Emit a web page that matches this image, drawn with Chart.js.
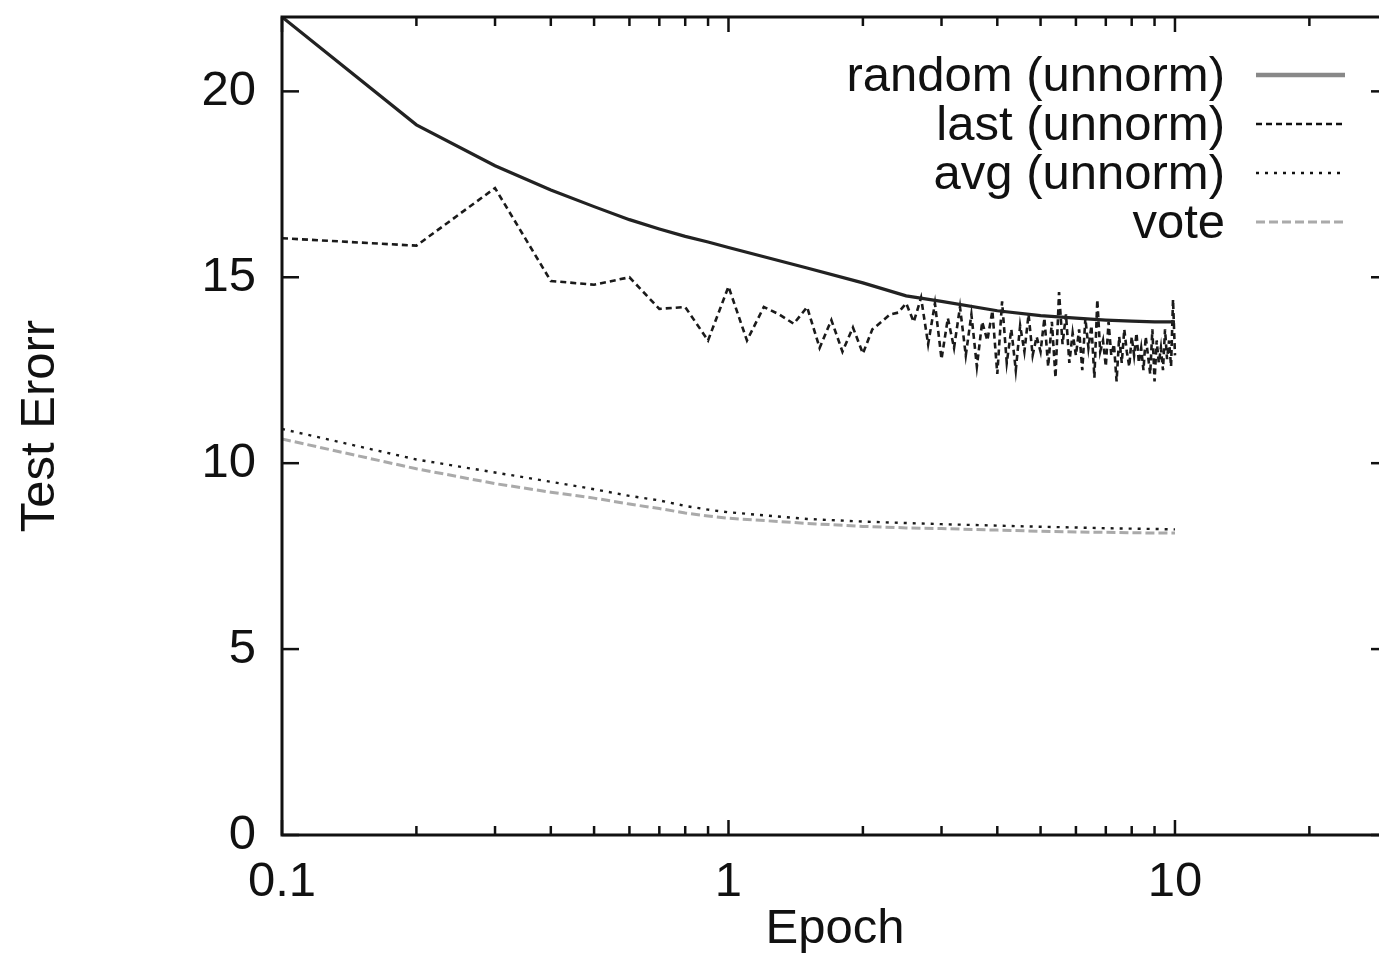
<!DOCTYPE html>
<html>
<head>
<meta charset="utf-8">
<script src="https://cdn.jsdelivr.net/npm/chart.js@4.4.1/dist/chart.umd.min.js"></script>
<style>
  html, body { margin: 0; padding: 0; background: #fff; overflow: hidden; }
  canvas { display: block; }
</style>
</head>
<body>
<canvas id="c" width="1395" height="960" style="width:1395px;height:960px"></canvas>
<script>
// ---- Data ----
const lastEpochs = [0.1,0.2,0.3,0.4,0.5,0.6,0.7,0.8,0.9,1.0,
  1.1,1.2,1.3,1.4,1.5,1.6,1.7,1.8,1.9,2.0,
  2.1,2.2,2.3,2.4,2.5,2.6,2.7,2.8,2.9,3.0,
  3.1,3.2,3.3,3.4,3.5,3.6,3.7,3.8,3.9,4.0,
  4.1,4.2,4.3,4.4,4.5,4.6,4.7,4.8,4.9,5.0,
  5.1,5.2,5.3,5.4,5.5,5.6,5.7,5.8,5.9,6.0,
  6.1,6.2,6.3,6.4,6.5,6.6,6.7,6.8,6.9,7.0,
  7.1,7.2,7.3,7.4,7.5,7.6,7.7,7.8,7.9,8.0,
  8.1,8.2,8.3,8.4,8.5,8.6,8.7,8.8,8.9,9.0,
  9.1,9.2,9.3,9.4,9.5,9.6,9.7,9.8,9.9,10.0];
const lastErr = [16.05,15.85,17.4,14.9,14.8,15.0,14.15,14.2,13.3,14.75,
  13.3,14.2,14.0,13.75,14.2,13.1,13.85,13.0,13.65,12.95,
  13.6,13.8,14.0,14.05,14.3,13.8,14.45,13.2,14.3,12.8,
  13.9,13.1,14.2,12.9,14.0,12.6,13.8,13.3,14.1,12.4,
  14.35,12.7,13.6,12.5,13.7,13.0,14.0,12.9,13.4,13.0,
  13.9,12.6,13.8,12.3,14.6,13.2,14.0,12.7,13.5,12.9,
  13.6,12.5,13.9,13.1,13.7,12.3,14.4,13.0,13.3,12.6,
  13.8,12.9,13.2,12.2,13.4,12.7,13.6,13.0,12.6,13.4,
  12.9,13.5,12.7,13.1,12.5,13.4,12.9,12.4,13.6,12.2,
  13.3,12.7,13.1,12.5,13.6,12.8,13.3,12.6,14.4,12.9];

const smoothEpochs = [0.1,0.2,0.3,0.4,0.5,0.6,0.7,0.8,0.9,1.0,1.5,2,2.5,3,4,5,6,7,8,9,10];
const randomErr = [22.0,19.1,18.0,17.35,16.9,16.55,16.3,16.1,15.95,15.8,15.25,14.85,14.5,14.35,14.1,13.97,13.9,13.85,13.82,13.8,13.8];
const avgErr    = [10.92,10.1,9.75,9.5,9.3,9.12,9.0,8.85,8.75,8.68,8.5,8.43,8.39,8.36,8.32,8.29,8.27,8.25,8.24,8.23,8.22];
const voteErr   = [10.65,9.85,9.45,9.22,9.06,8.9,8.78,8.66,8.58,8.52,8.38,8.3,8.26,8.24,8.2,8.17,8.15,8.14,8.13,8.12,8.12];

const seriesLabels = ['random (unnorm)', 'last (unnorm)', 'avg (unnorm)', 'vote'];
const xTickLabels = [0.1, 1, 10];
const yTickValues = [0, 5, 10, 15, 20];
const xMinorTicks = [0.2,0.3,0.4,0.5,0.6,0.7,0.8,0.9,2,3,4,5,6,7,8,9,20];

const toPts = (xs, ys) => xs.map((x, i) => ({ x: x, y: ys[i] }));
const FONT = "'Liberation Sans', Arial, sans-serif";

const frame = {
  id: 'frame',
  afterDatasetsDraw(chart) {
    const ctx = chart.ctx, a = chart.chartArea;
    const xs = chart.scales.x, ys = chart.scales.y;
    ctx.save();
    ctx.strokeStyle = '#111';
    ctx.lineWidth = 3;
    ctx.strokeRect(a.left, a.top, a.right - a.left, a.bottom - a.top);
    ctx.lineWidth = 2.5;
    const tick = (x1, y1, x2, y2) => { ctx.beginPath(); ctx.moveTo(x1, y1); ctx.lineTo(x2, y2); ctx.stroke(); };
    xTickLabels.forEach(v => { const p = xs.getPixelForValue(v); tick(p, a.bottom, p, a.bottom - 15); tick(p, a.top, p, a.top + 15); });
    xMinorTicks.forEach(v => { const p = xs.getPixelForValue(v); tick(p, a.bottom, p, a.bottom - 9); tick(p, a.top, p, a.top + 9); });
    yTickValues.forEach(v => { const p = ys.getPixelForValue(v); tick(a.left, p, a.left + 17, p); tick(a.right, p, a.right - 17, p); });

    // legend (text right-aligned, sample line on the right)
    ctx.font = '49px ' + FONT;
    ctx.textAlign = 'right';
    ctx.textBaseline = 'middle';
    chart.data.datasets.forEach((ds, i) => {
      const y = 75 + i * 49;
      ctx.fillStyle = '#111';
      ctx.fillText(ds.label, 1225, y + 2);
      ctx.strokeStyle = ds.legendColor;
      ctx.lineWidth = ds.legendWidth;
      ctx.setLineDash(ds.borderDash || []);
      tick(1256, y, 1345, y);
      ctx.setLineDash([]);
    });
    ctx.restore();
  }
};

new Chart(document.getElementById('c'), {
  type: 'line',
  data: {
    datasets: [
      { label: seriesLabels[0], data: toPts(smoothEpochs, randomErr), borderColor: '#222', borderWidth: 3.2, legendColor: '#888', legendWidth: 4.5 },
      { label: seriesLabels[1], data: toPts(lastEpochs, lastErr), borderColor: '#1a1a1a', borderWidth: 2.6, borderDash: [6, 4], legendColor: '#111', legendWidth: 2.6 },
      { label: seriesLabels[2], data: toPts(smoothEpochs, avgErr), borderColor: '#1a1a1a', borderWidth: 2.4, borderDash: [3, 6], legendColor: '#111', legendWidth: 2.4 },
      { label: seriesLabels[3], data: toPts(smoothEpochs, voteErr), borderColor: '#aaa', borderWidth: 3, borderDash: [9, 4], legendColor: '#aaa', legendWidth: 3 }
    ]
  },
  options: {
    responsive: false,
    devicePixelRatio: 1,
    animation: false,
    layout: { padding: { left: 0, top: 17, right: 7, bottom: 0 } },
    elements: { point: { radius: 0 }, line: { tension: 0, fill: false } },
    plugins: { legend: { display: false }, tooltip: { enabled: false } },
    scales: {
      x: {
        type: 'logarithmic', min: 0.1, max: 30,
        grid: { display: false, drawTicks: false },
        border: { display: false },
        afterFit: s => { s.height = 125; s.paddingLeft = 0; s.paddingRight = 0; },
        afterBuildTicks: s => { s.ticks = xTickLabels.map(v => ({ value: v })); },
        ticks: { color: '#111', font: { family: FONT, size: 49 }, padding: 18, maxRotation: 0, autoSkip: false,
                 callback: v => String(v) },
        title: { display: true, text: 'Epoch', color: '#111', font: { family: FONT, size: 49 }, padding: { top: 0, bottom: 1 } }
      },
      y: {
        type: 'linear', min: 0, max: 22,
        grid: { display: false, drawTicks: false },
        border: { display: false },
        afterFit: s => { s.width = 282; s.paddingTop = 0; s.paddingBottom = 0; },
        afterBuildTicks: s => { s.ticks = yTickValues.map(v => ({ value: v })); },
        ticks: { color: '#111', font: { family: FONT, size: 49 }, padding: 26 },
        title: { display: true, text: 'Test Erorr', color: '#111', font: { family: FONT, size: 49 }, padding: { top: 11, bottom: 0 } }
      }
    }
  },
  plugins: [frame]
});
</script>
</body>
</html>
